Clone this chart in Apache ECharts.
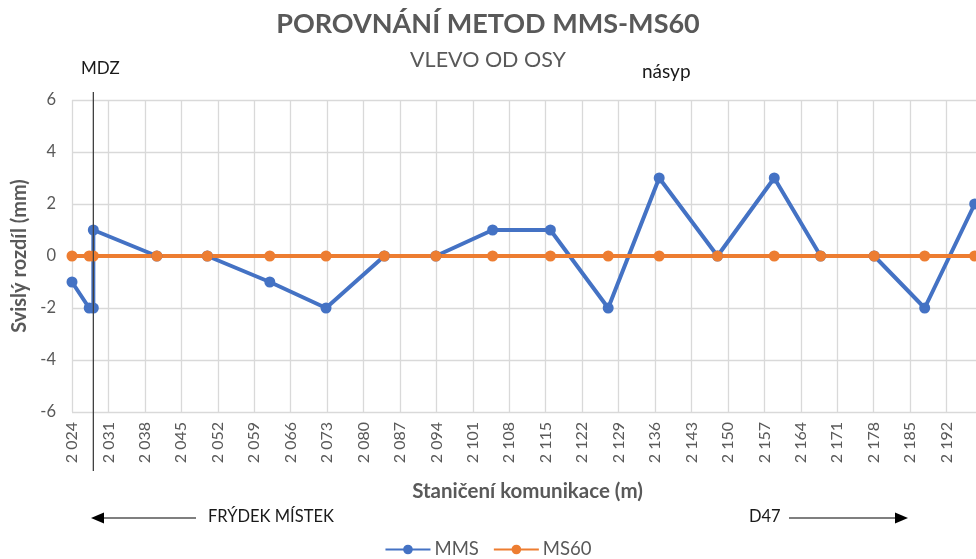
<!DOCTYPE html>
<html>
<head>
<meta charset="utf-8">
<script src="https://cdn.jsdelivr.net/npm/echarts@6/dist/echarts.min.js"></script>
<style>html,body{margin:0;padding:0;background:#fff}#c{width:976px;height:559px}</style>
</head>
<body>
<div id="c"></div>
<script>
const mmsX = [2024, 2027.3, 2028.1, 2028.1, 2040.3, 2050, 2062, 2072.8, 2084, 2093.9, 2104.8, 2115.9, 2127, 2136.8, 2148, 2158.9, 2167.8, 2178.1, 2187.8, 2197.4];
const mmsY = [-1, -2, -2, 1, 0, 0, -1, -2, 0, 0, 1, 1, -2, 3, 0, 3, 0, 0, -2, 2];
const ms60X = [2024, 2027.3, 2028.1, 2040.3, 2050, 2062, 2072.8, 2084, 2093.9, 2104.8, 2115.9, 2127, 2136.8, 2148, 2158.9, 2167.8, 2178.1, 2187.8, 2197.4];
const ms60Y = [0, 0, 0, 0, 0, 0, 0, 0, 0, 0, 0, 0, 0, 0, 0, 0, 0, 0, 0];
const mdzStation = 2028.1;
const xMin = 2024, xMax = 2199, xStep = 7;
const yMin = -6, yMax = 6, yStep = 2;

const FONT = 'Lato';
const GRAY = '#595959';
const chart = echarts.init(document.getElementById('c'));
const fmt = v => String(v).replace(/\B(?=(\d{3})+(?!\d))/g, ' ');
const pair = (xs, ys) => xs.map((x, i) => [x, ys[i]]);

chart.setOption({
  animation: false,
  textStyle: { fontFamily: FONT },
  title: [
    { text: 'POROVNÁNÍ METOD MMS-MS60', left: 'center', top: 6,
      textStyle: { fontFamily: FONT, fontSize: 27, fontWeight: 'bold', color: GRAY } },
    { text: 'VLEVO OD OSY', left: 'center', top: 44,
      textStyle: { fontFamily: FONT, fontSize: 21.5, fontWeight: 'normal', color: GRAY } }
  ],
  grid: { left: 72, right: -7, top: 100, bottom: 147, containLabel: false, outerBoundsMode: 'none' },
  legend: {
    top: 535, left: 'center', itemWidth: 45, itemHeight: 12, itemGap: 14,
    textStyle: { fontFamily: FONT, fontSize: 18.5, color: GRAY, padding: [0, 0, 0, -1] },
    data: ['MMS', 'MS60']
  },
  xAxis: {
    type: 'value', min: xMin, max: xMax, interval: xStep,
    name: 'Staničení komunikace (m)', nameLocation: 'middle', nameGap: 69,
    nameTextStyle: { fontFamily: FONT, fontSize: 20.5, fontWeight: 'bold', color: GRAY },
    axisLine: { show: true, lineStyle: { color: '#D9D9D9', width: 1 } },
    axisTick: { show: false },
    axisLabel: { rotate: 90, fontFamily: FONT, fontSize: 16, color: GRAY, margin: 10, formatter: fmt,
      showMinLabel: true, showMaxLabel: true },
    splitLine: { show: true, lineStyle: { color: '#D9D9D9', width: 1.3 } }
  },
  yAxis: {
    type: 'value', min: yMin, max: yMax, interval: yStep,
    name: 'Svislý rozdíl (mm)', nameLocation: 'middle', nameGap: 42,
    nameTextStyle: { fontFamily: FONT, fontSize: 20, fontWeight: 'bold', color: GRAY },
    axisLine: { show: false }, axisTick: { show: false },
    axisLabel: { fontFamily: FONT, fontSize: 16.5, color: GRAY, margin: 16 },
    splitLine: { show: true, lineStyle: { color: '#D9D9D9', width: 1.3 } }
  },
  series: [
    { name: 'MMS', type: 'line', data: pair(mmsX, mmsY), symbol: 'circle', symbolSize: 11,
      itemStyle: { color: '#4472C4' }, lineStyle: { color: '#4472C4', width: 4 } },
    { name: 'MS60', type: 'line', data: pair(ms60X, ms60Y), symbol: 'circle', symbolSize: 11,
      itemStyle: { color: '#ED7D31' }, lineStyle: { color: '#ED7D31', width: 4 } }
  ]
});

const mx = chart.convertToPixel({ xAxisIndex: 0 }, mdzStation);
chart.setOption({
  graphic: [
    { type: 'line', shape: { x1: mx, y1: 92, x2: mx, y2: 471 }, style: { stroke: '#404040', lineWidth: 1.3 }, z: 100 },
    { type: 'text', left: 81, top: 60, style: { text: 'MDZ', font: '17px Lato', fill: '#1a1a1a' } },
    { type: 'text', left: 642, top: 62, style: { text: 'násyp', font: '19px Lato', fill: '#1a1a1a' } },
    { type: 'line', shape: { x1: 100, y1: 518, x2: 196, y2: 518 }, style: { stroke: '#000', lineWidth: 1.2 } },
    { type: 'polygon', shape: { points: [[91, 518], [104, 512.5], [104, 523.5]] }, style: { fill: '#000' } },
    { type: 'text', left: 208, top: 508, style: { text: 'FRÝDEK MÍSTEK', font: '16.5px Lato', fill: '#1a1a1a' } },
    { type: 'text', left: 749, top: 508, style: { text: 'D47', font: '16.5px Lato', fill: '#1a1a1a' } },
    { type: 'line', shape: { x1: 789, y1: 518, x2: 898, y2: 518 }, style: { stroke: '#000', lineWidth: 1.2 } },
    { type: 'polygon', shape: { points: [[908, 518], [895, 512.5], [895, 523.5]] }, style: { fill: '#000' } }
  ]
});
</script>
</body>
</html>
